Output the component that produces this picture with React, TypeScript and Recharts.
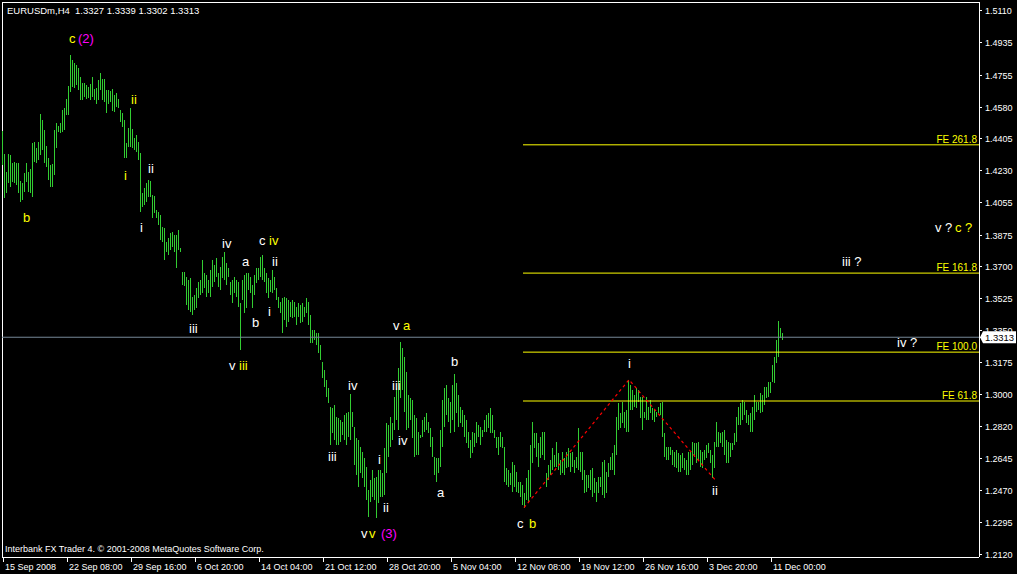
import { ComposedChart, Bar, Line, Scatter, XAxis, YAxis, Customized } from 'recharts'

// EURUSDm H4 bars, highs and lows in pips (price * 10000)
const HIGH = [
  14449, 14322, 14223, 14322, 14317, 14273, 14278, 14273, 14273, 14174,
  14163, 14218, 14273, 14223, 14240, 14383, 14388, 14355, 14388, 14542,
  14509, 14454, 14366, 14300, 14262, 14267, 14454, 14493, 14476, 14493,
  14564, 14575, 14625, 14696, 14867, 14839, 14823, 14812, 14795, 14746,
  14713, 14713, 14702, 14691, 14707, 14746, 14680, 14685, 14729, 14768,
  14735, 14735, 14674, 14674, 14669, 14680, 14647, 14658, 14625, 14564,
  14548, 14509, 14383, 14465, 14575, 14460, 14410, 14427, 14388, 14328,
  14108, 14135, 14163, 14179, 14174, 14097, 14091, 14014, 14003, 13987,
  13921, 13915, 13838, 13860, 13888, 13893, 13877, 13877, 13904, 13805,
  13673, 13673, 13646, 13629, 13640, 13536, 13547, 13585, 13618, 13629,
  13739, 13668, 13657, 13629, 13684, 13739, 13712, 13750, 13668, 13701,
  13756, 13783, 13723, 13695, 13618, 13629, 13646, 13629, 13618, 13503,
  13629, 13657, 13668, 13668, 13646, 13602, 13657, 13695, 13695, 13756,
  13767, 13695, 13668, 13640, 13629, 13684, 13646, 13585, 13536, 13508,
  13530, 13536, 13530, 13519, 13508, 13519, 13508, 13481, 13503, 13492,
  13503, 13481, 13530, 13508, 13437, 13354, 13354, 13338, 13338, 13272,
  13178, 13134, 13079, 13035, 12931, 12925, 12942, 12876, 12870, 12859,
  12848, 12887, 12898, 12903, 13002, 12903, 12821, 12760, 12749, 12711,
  12683, 12650, 12601, 12474, 12529, 12584, 12540, 12546, 12584, 12584,
  12568, 12705, 12843, 12832, 12876, 12843, 12986, 13035, 13145, 13288,
  13255, 13205, 13123, 12997, 12980, 12969, 12887, 12870, 12793, 12777,
  12859, 12876, 12898, 12848, 12815, 12766, 12656, 12650, 12650, 12804,
  12969, 13035, 13052, 12980, 12958, 13052, 13112, 13063, 12997, 12931,
  12914, 12887, 12859, 12793, 12749, 12793, 12788, 12848, 12832, 12821,
  12804, 12859, 12887, 12898, 12925, 12887, 12804, 12766, 12766, 12793,
  12766, 12711, 12595, 12584, 12568, 12628, 12612, 12573, 12518, 12518,
  12502, 12458, 12540, 12584, 12722, 12848, 12788, 12788, 12733, 12766,
  12793, 12793, 12568, 12612, 12639, 12705, 12667, 12738, 12678, 12639,
  12683, 12650, 12683, 12705, 12678, 12683, 12639, 12656, 12815, 12683,
  12683, 12584, 12557, 12557, 12584, 12595, 12540, 12518, 12546, 12546,
  12628, 12639, 12573, 12623, 12656, 12678, 12722, 12876, 12953, 12898,
  12958, 12903, 12914, 13079, 13052, 13024, 12997, 13035, 13024, 12986,
  12986, 12903, 12986, 12931, 12969, 12925, 12914, 12903, 12931, 12953,
  12958, 12788, 12711, 12711, 12711, 12694, 12683, 12694, 12678, 12667,
  12678, 12650, 12639, 12683, 12683, 12738, 12733, 12733, 12738, 12694,
  12683, 12694, 12722, 12733, 12694, 12667, 12738, 12848, 12793, 12788,
  12793, 12804, 12749, 12738, 12733, 12733, 12788, 12876, 12931, 12953,
  12969, 12958, 12914, 12887, 12898, 12931, 12997, 12958, 12958, 13008,
  12997, 13041, 13041, 13068, 13068, 13162, 13205, 13299, 13404, 13365, 13339,
]

const LOW = [
  14262, 14080, 14108, 14163, 14141, 14168, 14163, 14152, 14108, 14058,
  14069, 14113, 14168, 14113, 14108, 14086, 14278, 14273, 14289, 14317,
  14344, 14273, 14251, 14179, 14141, 14141, 14207, 14355, 14443, 14438,
  14443, 14454, 14537, 14537, 14663, 14691, 14685, 14702, 14674, 14619,
  14619, 14636, 14625, 14630, 14619, 14636, 14619, 14597, 14619, 14674,
  14619, 14608, 14548, 14597, 14608, 14559, 14553, 14581, 14575, 14498,
  14471, 14300, 14300, 14361, 14361, 14355, 14344, 14333, 14289, 14003,
  14031, 14042, 14058, 14086, 14086, 13970, 13998, 13970, 13932, 13849,
  13838, 13739, 13783, 13767, 13794, 13811, 13783, 13695, 13794, 13783,
  13602, 13596, 13492, 13464, 13453, 13437, 13464, 13475, 13530, 13547,
  13558, 13585, 13536, 13558, 13536, 13591, 13618, 13646, 13591, 13574,
  13640, 13629, 13602, 13646, 13547, 13503, 13558, 13536, 13481, 13244,
  13519, 13448, 13475, 13574, 13558, 13475, 13547, 13613, 13629, 13646,
  13629, 13618, 13558, 13530, 13563, 13558, 13574, 13519, 13475, 13448,
  13338, 13409, 13371, 13398, 13426, 13420, 13426, 13382, 13426, 13393,
  13398, 13426, 13448, 13382, 13283, 13283, 13299, 13272, 13227, 13189,
  13090, 13041, 12986, 12953, 12722, 12788, 12749, 12722, 12722, 12738,
  12777, 12749, 12722, 12766, 12749, 12821, 12612, 12557, 12491, 12568,
  12540, 12491, 12419, 12326, 12408, 12436, 12419, 12320, 12403, 12436,
  12436, 12447, 12568, 12656, 12711, 12749, 12804, 12859, 12804, 12980,
  13024, 12903, 12804, 12815, 12859, 12760, 12656, 12667, 12667, 12760,
  12766, 12793, 12804, 12788, 12711, 12656, 12557, 12518, 12568, 12601,
  12711, 12821, 12887, 12848, 12788, 12859, 12793, 12898, 12821, 12843,
  12821, 12766, 12733, 12705, 12650, 12678, 12711, 12733, 12766, 12722,
  12766, 12793, 12793, 12815, 12788, 12788, 12760, 12705, 12667, 12711,
  12705, 12518, 12502, 12491, 12502, 12463, 12491, 12463, 12458, 12436,
  12392, 12375, 12419, 12403, 12436, 12623, 12705, 12656, 12601, 12650,
  12667, 12639, 12491, 12529, 12557, 12584, 12601, 12601, 12584, 12557,
  12568, 12557, 12595, 12601, 12573, 12601, 12568, 12595, 12584, 12573,
  12529, 12458, 12463, 12485, 12474, 12436, 12458, 12408, 12458, 12491,
  12447, 12430, 12458, 12546, 12584, 12584, 12557, 12667, 12804, 12815,
  12843, 12815, 12793, 12793, 12914, 12914, 12931, 12925, 12958, 12870,
  12804, 12870, 12859, 12859, 12898, 12859, 12848, 12876, 12898, 12887,
  12766, 12656, 12639, 12639, 12667, 12612, 12601, 12595, 12573, 12573,
  12595, 12584, 12557, 12557, 12584, 12612, 12656, 12623, 12639, 12601,
  12595, 12639, 12650, 12678, 12623, 12540, 12595, 12711, 12711, 12733,
  12711, 12667, 12623, 12623, 12656, 12694, 12722, 12738, 12832, 12832,
  12859, 12887, 12843, 12832, 12793, 12793, 12859, 12903, 12914, 12898,
  12903, 12942, 12980, 12986, 13008, 13068, 13063, 13173, 13205, 13310, 13302,
]

// bar index of each time label (one bar = 4 hours)
const X_TICKS = [0, 32, 64, 96, 128, 160, 192, 224, 256, 288, 320, 352, 384]
const X_LABELS = [
  '15 Sep 2008', '22 Sep 08:00', '29 Sep 16:00', '6 Oct 20:00', '14 Oct 04:00',
  '21 Oct 12:00', '28 Oct 20:00', '5 Nov 04:00', '12 Nov 08:00', '19 Nov 12:00',
  '26 Nov 16:00', '3 Dec 20:00', '11 Dec 00:00',
]
const Y_TICKS = [
  1.212, 1.2295, 1.247, 1.2645, 1.282, 1.3, 1.3175, 1.335, 1.3525,
  1.37, 1.3875, 1.4055, 1.423, 1.4405, 1.458, 1.4755, 1.4935, 1.511,
]
// open, high, low, close of the last bar
const QUOTE = [1.3327, 1.3339, 1.3302, 1.3313]

const FE_NAMES = ['FE 261.8', 'FE 161.8', 'FE 100.0', 'FE 61.8']
const FE_LEVELS = [14372, 13666, 13231, 12962]
const FE_START = 260

const TREND_BARS = [260.5, 313, 356]
const TREND_PRICES = [12375, 13079, 12529]

// wave counts: text, bar index, price (pips), colour key
const WAVE_TEXT = [
  'c', '(2)', 'ii', 'i', 'ii', 'b', 'i', 'iii', 'iv', 'a', 'b', 'c', 'iv', 'ii', 'i',
  'v', 'iii', 'v', 'a', 'iv', 'iii', 'iii', 'iv', 'i', 'ii', 'v', 'v', '(3)', 'b', 'a',
  'c', 'b', 'i', 'ii', 'iv ?', 'iii ?', 'v ?', 'c ?',
]
const WAVE_BAR = [
  33, 37.5, 64, 60.5, 72.5, 10, 68.5, 93, 109.5, 119.5, 124.5, 128, 133, 134.5, 132.5,
  113, 118, 195, 200, 172.5, 162.5, 194.5, 197.5, 187.5, 190, 179, 183, 189, 224, 217,
  257, 263, 312.5, 354.5, 447, 419.5, 466, 476,
]
const WAVE_PRICE = [
  14955, 14955, 14619, 14201, 14240, 13970, 13915, 13360, 13827, 13728, 13393, 13844, 13844, 13728, 13453,
  13156, 13156, 13376, 13376, 13046, 12656, 13046, 12744, 12639, 12375, 12232, 12232, 12232, 13178, 12458,
  12287, 12287, 13167, 12468, 13283, 13728, 13915, 13915,
]
const WAVE_COLOR = [
  'Y', 'M', 'Y', 'Y', 'W', 'Y', 'W', 'W', 'W', 'W', 'W', 'W', 'Y', 'W', 'W',
  'W', 'Y', 'W', 'Y', 'W', 'W', 'W', 'W', 'W', 'W', 'W', 'Y', 'M', 'W', 'W',
  'W', 'Y', 'W', 'W', 'W', 'W', 'W', 'Y',
]
const COLORS: Record<string, string> = { W: '#ffffff', Y: '#ffff00', M: '#ff00ff' }

const FONT = '"Liberation Sans", Arial, sans-serif'

const bars = HIGH.map((h, i) => ({ i, range: [LOW[i] / 10000, h / 10000] }))
const trend = TREND_BARS.map((i, k) => ({ i, p: TREND_PRICES[k] / 10000 }))
const lastLine = [{ i: -0.5, p: QUOTE[3] }, { i: 488, p: QUOTE[3] }]
const feLabels = FE_NAMES.map((t, k) => ({ i: 487, p: FE_LEVELS[k] / 10000, t }))
const waves = WAVE_TEXT.map((t, k) => ({ i: WAVE_BAR[k], p: WAVE_PRICE[k] / 10000, t, c: COLORS[WAVE_COLOR[k]] }))

const HLBar = (props: any) => {
  const { x, y, width, height } = props
  if (height == null || isNaN(y)) return null
  const cx = Math.round(x + width / 2 - 0.5)
  return <rect x={cx} y={Math.round(y)} width={1} height={Math.max(1, Math.round(height))} fill="#32cd32" />
}

const WaveText = (props: any) => {
  const { cx, cy, payload } = props
  return (
    <text x={cx} y={cy} dy={4.5} fill={payload.c} fontSize={13} fontFamily={FONT}>
      {payload.t}
    </text>
  )
}

const FeText = (props: any) => {
  const { cx, cy, payload } = props
  return (
    <text x={cx} y={cy - 2} textAnchor="end" fill="#ffff00" fontSize={10} fontFamily={FONT}>
      {payload.t}
    </text>
  )
}

const TimeTick = (props: any) => {
  const { x, y, index } = props
  return (
    <text x={x + 2} y={y + 7} fill="#ffffff" fontSize={9} fontFamily={FONT}>
      {X_LABELS[index]}
    </text>
  )
}

const PriceTick = (props: any) => {
  const { x, y, payload } = props
  const v = payload.value
  if (v === QUOTE[3]) {
    return (
      <g>
        <path d={`M${x - 5},${y} L${x - 2},${y - 6} H${x + 31} V${y + 6} H${x - 2} Z`} fill="#ffffff" />
        <text x={x} y={y} dy={3.5} fill="#000000" fontSize={9.5} fontFamily={FONT}>
          {v.toFixed(4)}
        </text>
      </g>
    )
  }
  return (
    <text x={x} y={y} dy={3.5} fill="#ffffff" fontSize={9} fontFamily={FONT}>
      {v.toFixed(4)}
    </text>
  )
}

const Overlay = () => (
  <g>
    <rect x={2} y={2} width={1} height={555} fill="#ffffff" />
    <rect x={2} y={2} width={977} height={1} fill="#ffffff" />
    <text x={7} y={14} fill="#ffffff" fontSize={9.5} fontFamily={FONT} style={{ whiteSpace: 'pre' }}>
      {`EURUSDm,H4  ${QUOTE.map((q) => q.toFixed(4)).join(' ')}`}
    </text>
    <text x={5} y={552} fill="#ffffff" fontSize={9} fontFamily={FONT}>
      Interbank FX Trader 4. © 2001-2008 MetaQuotes Software Corp.
    </text>
  </g>
)

export default function App() {
  return (
    <div style={{ position: 'fixed', left: 0, top: 0, width: 1017, height: 574, background: '#000000' }}>
      <style>{`svg line, svg rect { shape-rendering: crispEdges; }`}</style>
      <ComposedChart width={1017} height={574} data={bars} margin={{ top: 2, right: 0, bottom: 0, left: 2 }}>
        <XAxis
          dataKey="i"
          type="number"
          domain={[-0.5, 488]}
          allowDataOverflow
          ticks={X_TICKS}
          interval={0}
          height={17}
          tickSize={5}
          tickMargin={1}
          axisLine={{ stroke: '#ffffff' }}
          tickLine={{ stroke: '#ffffff' }}
          tick={<TimeTick />}
        />
        <YAxis
          orientation="right"
          type="number"
          domain={[1.21035, 1.5158]}
          allowDataOverflow
          ticks={[...Y_TICKS, QUOTE[3]]}
          interval={0}
          width={38}
          tickSize={3}
          tickMargin={3}
          axisLine={{ stroke: '#ffffff' }}
          tickLine={{ stroke: '#ffffff' }}
          tick={<PriceTick />}
        />
        <Line data={lastLine} dataKey="p" stroke="#778899" strokeWidth={1} dot={false} isAnimationActive={false} />
        {FE_LEVELS.map((lv, k) => (
          <Line
            key={k}
            data={[{ i: FE_START, p: lv / 10000 }, { i: 488, p: lv / 10000 }]}
            dataKey="p"
            stroke="#ffff00"
            strokeWidth={1}
            dot={false}
            isAnimationActive={false}
          />
        ))}
        <Bar dataKey="range" barSize={1} shape={<HLBar />} isAnimationActive={false} />
        <Line
          data={trend}
          dataKey="p"
          type="linear"
          stroke="#ff0000"
          strokeWidth={1.2}
          strokeDasharray="3 3"
          dot={false}
          isAnimationActive={false}
        />
        <Scatter data={feLabels} dataKey="p" shape={<FeText />} isAnimationActive={false} />
        <Scatter data={waves} dataKey="p" shape={<WaveText />} isAnimationActive={false} />
        <Customized component={Overlay} />
      </ComposedChart>
    </div>
  )
}
